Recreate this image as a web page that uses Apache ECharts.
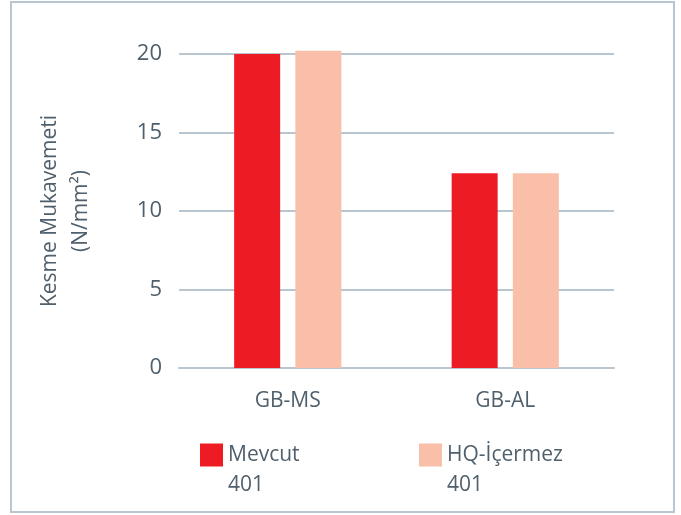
<!DOCTYPE html>
<html>
<head>
    <meta charset="utf-8">
    <script src="https://cdn.jsdelivr.net/npm/echarts@6/dist/echarts.min.js"></script>
</head>
<body style="margin: 0; background: #fff">
    <div id="container" style="width: 681px; height: 515px"></div>
    <script type="text/javascript">
        var categories = ['GB-MS', 'GB-AL'];
        var mevcut = [20.0, 12.4];
        var hqIcermez = [20.2, 12.4];
        var seriesNames = ['Mevcut\n401', 'HQ-İçermez\n401'];
        var yMin = 0, yMax = 20, yStep = 5;

        var textColor = '#4f5f6b';
        var lineColor = '#b9c6cf';
        var font = 'Open Sans';

        var chart = echarts.init(document.getElementById('container'));

        // one legend per series so each item can sit where the reference puts it
        function legendFor(name, left) {
            return {
                data: [name],
                left: left,
                top: 405,
                itemWidth: 23,
                itemHeight: 23,
                icon: 'rect',
                selectedMode: false,
                // blank first line keeps the icon level with the first text line
                formatter: function (n) { return '\n' + n; },
                textStyle: {
                    color: textColor,
                    fontFamily: font,
                    fontSize: 21,
                    lineHeight: 30
                }
            };
        }

        var option = {
            backgroundColor: '#fff',
            animation: false,
            graphic: [{
                type: 'rect',
                shape: { x: 11, y: 2, width: 663, height: 510 },
                style: { fill: 'none', stroke: lineColor, lineWidth: 2 },
                silent: true
            }],
            legend: [legendFor(seriesNames[0], 195), legendFor(seriesNames[1], 414)],
            grid: { left: 179, right: 67, top: 54, bottom: 147 },
            xAxis: {
                type: 'category',
                data: categories,
                axisLine: { show: true, lineStyle: { color: lineColor, width: 2 } },
                axisTick: { show: false },
                axisLabel: { color: textColor, fontFamily: font, fontSize: 21, margin: 23 }
            },
            yAxis: {
                type: 'value',
                min: yMin,
                max: yMax,
                interval: yStep,
                name: 'Kesme Mukavemeti\n(N/mm²)',
                nameLocation: 'middle',
                nameGap: 82,
                nameTextStyle: { color: textColor, fontFamily: font, fontSize: 21, lineHeight: 31 },
                axisLine: { show: false },
                axisTick: { show: false },
                axisLabel: { color: textColor, fontFamily: font, fontSize: 22, margin: 17 },
                splitLine: { lineStyle: { color: lineColor, width: 2 } }
            },
            series: [{
                name: seriesNames[0],
                type: 'bar',
                data: mevcut,
                barWidth: 46,
                barGap: '33%',
                clip: false,
                itemStyle: { color: '#ed1c24' }
            }, {
                name: seriesNames[1],
                type: 'bar',
                data: hqIcermez,
                barWidth: 46,
                clip: false,
                itemStyle: { color: '#f9bfa8' }
            }]
        };
        chart.setOption(option);
    </script>
</body>
</html>
